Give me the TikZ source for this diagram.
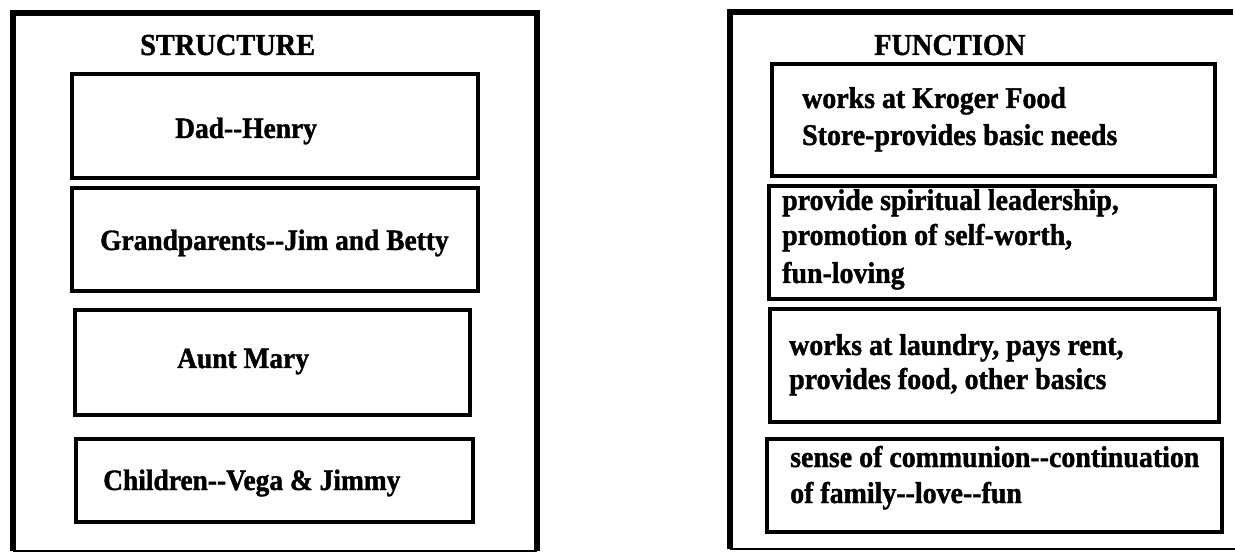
\documentclass[tikz,border=0pt]{standalone}
\usepackage{fontspec}
\setmainfont{Liberation Serif}[BoldFeatures={FakeBold=1.3,FakeStretch=0.93}]
\newcommand\ddash{\mbox{-}\mbox{-}}
\begin{document}
\begin{tikzpicture}[x=1pt,y=-1pt,
  frame/.style={line width=6.5pt},
  thinframe/.style={line width=2pt},
  box/.style={draw, line width=4.5pt, inner sep=0pt, fill=none},
  txt/.style={anchor=base west, inner sep=0pt, font=\bfseries\fontsize{30}{34}\selectfont},
  ltxt/.style={anchor=base west, inner sep=0pt, font=\bfseries\fontsize{29.5}{34}\selectfont},
  ttl/.style={anchor=base west, inner sep=0pt, font=\fontsize{30.5}{34}\selectfont\bfseries}]
\useasboundingbox (0,0) rectangle (1235,553);
% outer frames
\coordinate (la) at (537,551);
\coordinate (lb) at (537,13);
\coordinate (lc) at (13,13);
\coordinate (ld) at (13,551);
\draw[frame] (la) -- (lb) -- (lc) -- (ld);
\draw[thinframe] (ld) -- (la);
\coordinate (ra) at (1233,12);
\coordinate (rb) at (730,12);
\coordinate (rc) at (730,549);
\coordinate (rd) at (1235,549);
\draw[frame] (ra) -- (rb) -- (rc);
\draw[thinframe] (rc) -- (rd);
% titles
\node[ttl] (stitle) at (140,55) {STRUCTURE};
\node[ttl] (ftitle) at (874,55) {FUNCTION};
% structure boxes
\node[box, minimum width=406pt, minimum height=104pt] (s1) at (275,126) {};
\node[box, minimum width=406pt, minimum height=103pt] (s2) at (275,239.5) {};
\node[box, minimum width=395pt, minimum height=105pt] (s3) at (272.5,362.5) {};
\node[box, minimum width=397pt, minimum height=83pt] (s4) at (274.5,480.5) {};
\node[ltxt] (s1t) at (175,138) {Dad\ddash Henry};
\node[ltxt] (s2t) at (100,250) {Grandparents\ddash Jim and Betty};
\node[ltxt] (s3t) at (177,368) {Aunt Mary};
\node[ltxt] (s4t) at (103,490) {Children\ddash Vega \& Jimmy};
% function boxes
\node[box, minimum width=443pt, minimum height=112pt] (f1) at (993.5,120) {};
\node[box, minimum width=446pt, minimum height=113pt] (f2) at (992,242.5) {};
\node[box, minimum width=449pt, minimum height=113pt] (f3) at (994.5,365.5) {};
\node[box, minimum width=455pt, minimum height=93pt] (f4) at (994.5,485.5) {};
\node[txt] (f1a) at (802,108) {works at Kroger Food};
\node[txt] (f1b) at (802,145) {Store-provides basic needs};
\node[txt] (f2a) at (782,210) {provide spiritual leadership,};
\node[txt] (f2b) at (782,245) {promotion of self-worth,};
\node[txt] (f2c) at (782,283) {fun-loving};
\node[txt] (f3a) at (789,355) {works at laundry, pays rent,};
\node[txt] (f3b) at (789,389) {provides food, other basics};
\node[txt] (f4a) at (790,467) {sense of communion\ddash continuation};
\node[txt] (f4b) at (790,503) {of family\ddash love\ddash fun};
\end{tikzpicture}
\end{document}
